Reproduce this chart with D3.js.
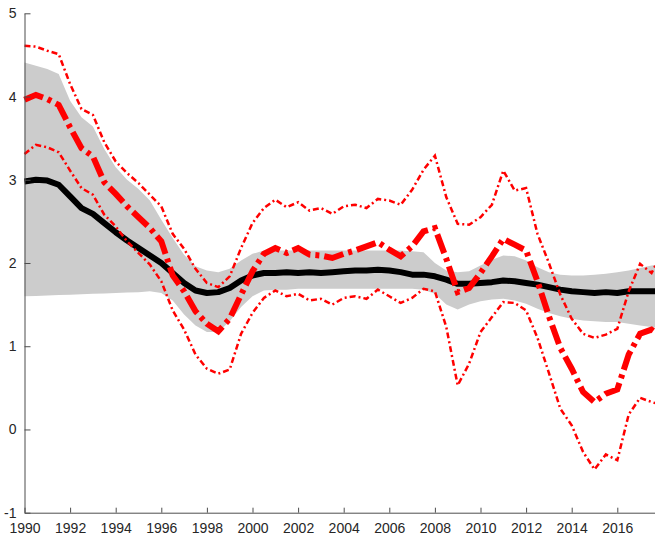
<!DOCTYPE html>
<html>
<head>
<meta charset="utf-8">
<script src="https://cdn.jsdelivr.net/npm/d3@7"></script>
<style>
html,body{margin:0;padding:0;background:#fff;}
svg{display:block;}
.axis text{font-family:"Liberation Sans",Arial,Helvetica,sans-serif;font-size:14px;fill:#262626;}
.axis path,.axis line{stroke:#4d4d4d;stroke-width:1;}
</style>
</head>
<body>
<script>
const dates = [1990,1990.5,1991,1991.5,1992,1992.5,1993,1993.5,1994,1994.5,1995,1995.5,1996,1996.5,1997,1997.5,1998,1998.5,1999,1999.5,2000,2000.5,2001,2001.5,2002,2002.5,2003,2003.5,2004,2004.5,2005,2005.5,2006,2006.5,2007,2007.5,2008,2008.5,2009,2009.5,2010,2010.5,2011,2011.5,2012,2012.5,2013,2013.5,2014,2014.5,2015,2015.5,2016,2016.5,2017,2017.5,2017.75];

const median = [2.98,3.00,2.99,2.94,2.80,2.66,2.59,2.48,2.37,2.27,2.18,2.09,2.00,1.88,1.76,1.67,1.64,1.65,1.70,1.79,1.85,1.88,1.88,1.89,1.88,1.89,1.88,1.89,1.90,1.91,1.91,1.92,1.91,1.89,1.86,1.86,1.84,1.80,1.75,1.75,1.76,1.77,1.79,1.78,1.76,1.74,1.71,1.68,1.66,1.65,1.64,1.65,1.64,1.66,1.66,1.66,1.66];

const bandUpper = [4.41,4.37,4.33,4.27,3.95,3.75,3.64,3.37,3.15,3.00,2.89,2.75,2.52,2.30,2.10,1.96,1.91,1.89,1.93,2.03,2.11,2.15,2.15,2.15,2.15,2.15,2.15,2.15,2.15,2.15,2.15,2.15,2.15,2.15,2.14,2.13,2.00,1.91,1.89,1.90,1.97,2.04,2.09,2.08,2.03,1.95,1.89,1.86,1.85,1.85,1.86,1.87,1.89,1.91,1.94,1.97,1.98];

const bandLower = [1.60,1.605,1.61,1.615,1.62,1.625,1.63,1.635,1.64,1.645,1.65,1.66,1.64,1.55,1.38,1.25,1.17,1.17,1.30,1.47,1.60,1.67,1.68,1.68,1.69,1.69,1.69,1.69,1.69,1.69,1.69,1.69,1.69,1.69,1.69,1.68,1.63,1.50,1.44,1.50,1.54,1.56,1.57,1.55,1.51,1.45,1.40,1.36,1.33,1.31,1.30,1.29,1.29,1.27,1.25,1.23,1.22];

const estimate = [3.96,4.02,3.97,3.90,3.63,3.38,3.28,2.97,2.83,2.68,2.55,2.42,2.26,1.85,1.66,1.42,1.27,1.18,1.33,1.62,1.90,2.11,2.18,2.12,2.18,2.10,2.09,2.06,2.11,2.15,2.20,2.25,2.16,2.08,2.20,2.38,2.42,2.05,1.65,1.70,1.88,2.08,2.29,2.22,2.15,1.78,1.36,0.98,0.73,0.45,0.33,0.43,0.48,0.90,1.15,1.20,1.15];

const estUpper = [4.61,4.60,4.55,4.51,4.15,3.85,3.78,3.45,3.22,3.08,2.96,2.82,2.68,2.35,2.17,1.93,1.76,1.71,1.84,2.18,2.48,2.66,2.76,2.67,2.73,2.63,2.66,2.59,2.68,2.70,2.66,2.77,2.75,2.70,2.88,3.12,3.29,2.79,2.47,2.46,2.55,2.70,3.11,2.87,2.90,2.35,2.00,1.62,1.33,1.15,1.10,1.14,1.21,1.66,1.99,1.88,2.01];

const estLower = [3.31,3.42,3.39,3.33,3.11,2.90,2.82,2.58,2.44,2.26,2.12,1.98,1.78,1.43,1.20,0.90,0.73,0.67,0.72,1.15,1.40,1.58,1.67,1.60,1.63,1.55,1.57,1.50,1.58,1.60,1.57,1.68,1.60,1.52,1.58,1.69,1.66,1.23,0.53,0.79,1.17,1.35,1.53,1.52,1.43,1.10,0.68,0.25,0.05,-0.27,-0.48,-0.30,-0.37,0.18,0.38,0.33,0.31];

const xTicks = [1990,1992,1994,1996,1998,2000,2002,2004,2006,2008,2010,2012,2014,2016];
const yTicks = [-1,0,1,2,3,4,5];

const W = 655, H = 535;
const svg = d3.select("body").append("svg").attr("width", W).attr("height", H);

const x = d3.scaleLinear().domain([1990, 2017.75]).range([24.5, 657.2]);
const y = d3.scaleLinear().domain([-1, 5]).range([512.7, 13.3]);

const idx = d3.range(dates.length);

const plot = svg.append("g");

// shaded band
plot.append("path")
  .datum(idx)
  .attr("fill", "#cccccc")
  .attr("stroke", "none")
  .attr("d", d3.area().x(i => x(dates[i])).y0(i => y(bandLower[i])).y1(i => y(bandUpper[i])));

const line = arr => d3.line().x(i => x(dates[i])).y(i => y(arr[i]))(idx);

plot.append("path").attr("d", line(median))
  .attr("fill", "none").attr("stroke", "#000").attr("stroke-width", 6)
  .attr("stroke-linejoin", "round");

[estUpper, estLower].forEach(arr => {
  plot.append("path").attr("d", line(arr))
    .attr("fill", "none").attr("stroke", "#ff0000").attr("stroke-width", 2.5)
    .attr("stroke-dasharray", "6,3,2,3");
});

plot.append("path").attr("d", line(estimate))
  .attr("fill", "none").attr("stroke", "#ff0000").attr("stroke-width", 6)
  .attr("stroke-dasharray", "20,5,4,5");

// axes
svg.append("g").attr("class", "axis")
  .attr("transform", "translate(24.5,0)")
  .call(d3.axisLeft(y).tickValues(yTicks).tickFormat(d => String(d)).tickSizeInner(-6).tickSizeOuter(0).tickPadding(8));

svg.append("g").attr("class", "axis")
  .attr("transform", "translate(0,512.7)")
  .call(d3.axisBottom(x).tickValues(xTicks).tickFormat(d => String(d)).tickSizeInner(-5).tickSizeOuter(0).tickPadding(10));
</script>
</body>
</html>
